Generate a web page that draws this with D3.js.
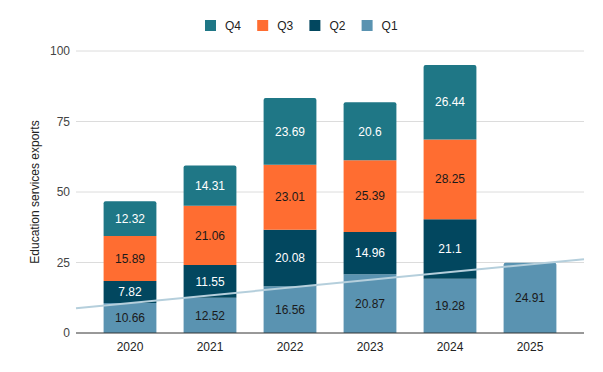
<!DOCTYPE html>
<html>
<head>
<meta charset="utf-8">
<script src="https://cdn.jsdelivr.net/npm/d3@7"></script>
<style>
  body { margin: 0; background: #fff; }
  text { font-family: "Liberation Sans", Arial, sans-serif; }
</style>
</head>
<body>
<div class="vis-bars"></div>
<script>
// data
var years = ["2020", "2021", "2022", "2023", "2024", "2025"];
var q1 = [10.66, 12.52, 16.56, 20.87, 19.28, 24.91];
var q2 = [7.82, 11.55, 20.08, 14.96, 21.1, null];
var q3 = [15.89, 21.06, 23.01, 25.39, 28.25, null];
var q4 = [12.32, 14.31, 23.69, 20.6, 26.44, null];
var yTicks = [0, 25, 50, 75, 100];

var series = [
  {key: "Q1", values: q1, color: "#5a93b1", text: "#1a1a1a"},
  {key: "Q2", values: q2, color: "#02475f", text: "#ffffff"},
  {key: "Q3", values: q3, color: "#ff6d31", text: "#1a1a1a"},
  {key: "Q4", values: q4, color: "#1f7786", text: "#ffffff"}
];

var W = 603, H = 372;
var margin = {top: 51, right: 19, bottom: 39, left: 76};
var width = W - margin.left - margin.right,
    height = H - margin.top - margin.bottom;

var svg = d3.select(".vis-bars")
  .append("svg")
    .attr("width", W)
    .attr("height", H);

var g = svg.append("g")
    .attr("transform", "translate(" + margin.left + "," + margin.top + ")");

var x = d3.scaleBand()
  .domain(years)
  .range([0, width])
  .paddingInner(0.34)
  .paddingOuter(0.345);

var y = d3.scaleLinear()
  .domain([0, 100])
  .range([height, 0]);

// gridlines
g.append("g")
  .selectAll("line")
  .data(yTicks.filter(function(d) { return d > 0; }))
  .enter()
  .append("line")
    .attr("x1", 0)
    .attr("x2", width)
    .attr("y1", function(d) { return y(d); })
    .attr("y2", function(d) { return y(d); })
    .attr("stroke", "#dcdcdc")
    .attr("stroke-width", 1);

// y tick labels
g.append("g")
  .selectAll("text")
  .data(yTicks)
  .enter()
  .append("text")
    .attr("x", -6)
    .attr("y", function(d) { return y(d); })
    .attr("dy", "0.35em")
    .attr("text-anchor", "end")
    .attr("font-size", 12)
    .attr("fill", "#444")
    .text(function(d) { return d; });

// stacked segments
var rows = years.map(function(yr, i) {
  var r = {year: yr};
  series.forEach(function(s) { r[s.key] = s.values[i] || 0; });
  return r;
});
var stack = d3.stack().keys(series.map(function(s) { return s.key; }));
var layers = stack(rows);

// find the top segment of each bar so it gets rounded corners
var topKey = years.map(function(yr, i) {
  var k = null;
  series.forEach(function(s) { if (s.values[i]) k = s.key; });
  return k;
});

var r = 2;
function segPath(x0, x1, y0, y1, round) {
  if (!round) return "M" + x0 + "," + y1 + "H" + x1 + "V" + y0 + "H" + x0 + "Z";
  return "M" + x0 + "," + y0 + "V" + (y1 + r) + "Q" + x0 + "," + y1 + " " + (x0 + r) + "," + y1 +
    "H" + (x1 - r) + "Q" + x1 + "," + y1 + " " + x1 + "," + (y1 + r) + "V" + y0 + "Z";
}

layers.forEach(function(layer, li) {
  var s = series[li];
  var lg = g.append("g");
  lg.selectAll("path")
    .data(layer.filter(function(d) { return d[1] - d[0] > 0; }))
    .enter()
    .append("path")
      .attr("d", function(d) {
        var x0 = x(d.data.year), x1 = x0 + x.bandwidth();
        var i = years.indexOf(d.data.year);
        return segPath(x0, x1, y(d[0]), y(d[1]), topKey[i] === s.key);
      })
      .attr("fill", s.color);
});

// Q1 linear trendline (least squares over the category index)
var mx = d3.mean(q1, function(d, i) { return i; }), my = d3.mean(q1);
var sxy = d3.sum(q1, function(d, i) { return (i - mx) * (d - my); });
var sxx = d3.sum(q1, function(d, i) { return (i - mx) * (i - mx); });
var slope = sxy / sxx, icpt = my - slope * mx;
var step = x.step(), c0 = x(years[0]) + x.bandwidth() / 2;
var idxAt = function(px) { return (px - c0) / step; };
g.append("line")
  .attr("x1", 0)
  .attr("x2", width)
  .attr("y1", y(icpt + slope * idxAt(0)))
  .attr("y2", y(icpt + slope * idxAt(width)))
  .attr("stroke", "#b5cfdc")
  .attr("stroke-width", 2);

// value labels
layers.forEach(function(layer, li) {
  var s = series[li];
  g.append("g")
    .selectAll("text")
    .data(layer.filter(function(d) { return d[1] - d[0] > 0; }))
    .enter()
    .append("text")
      .attr("x", function(d) { return x(d.data.year) + x.bandwidth() / 2; })
      .attr("y", function(d) { return (y(d[0]) + y(d[1])) / 2; })
      .attr("dy", "0.35em")
      .attr("text-anchor", "middle")
      .attr("font-size", 12)
      .attr("fill", s.text)
      .text(function(d) { return d.data[s.key]; });
});

// baseline + x labels
g.append("line")
  .attr("x1", 0).attr("x2", width)
  .attr("y1", height).attr("y2", height)
  .attr("stroke", "#333").attr("stroke-width", 1);

g.append("g")
  .selectAll("text")
  .data(years)
  .enter()
  .append("text")
    .attr("x", function(d) { return x(d) + x.bandwidth() / 2; })
    .attr("y", height + 14)
    .attr("dy", "0.35em")
    .attr("text-anchor", "middle")
    .attr("font-size", 12)
    .attr("fill", "#222")
    .text(function(d) { return d; });

// y title
svg.append("text")
  .attr("transform", "translate(38.5," + (margin.top + height / 2) + ") rotate(-90)")
  .attr("text-anchor", "middle")
  .attr("font-size", 12)
  .attr("fill", "#222")
  .text("Education services exports");

// legend, Q4 first
var legend = svg.append("g").attr("transform", "translate(205,20)");
var items = series.slice().reverse();
var li = legend.selectAll("g")
  .data(items)
  .enter()
  .append("g")
    .attr("transform", function(d, i) { return "translate(" + (i * 52.2) + ",0)"; });
li.append("rect")
  .attr("width", 11).attr("height", 11)
  .attr("fill", function(d) { return d.color; });
li.append("text")
  .attr("x", 20).attr("y", 5.5)
  .attr("dy", "0.35em")
  .attr("font-size", 12)
  .attr("fill", "#222")
  .text(function(d) { return d.key; });
</script>
</body>
</html>
